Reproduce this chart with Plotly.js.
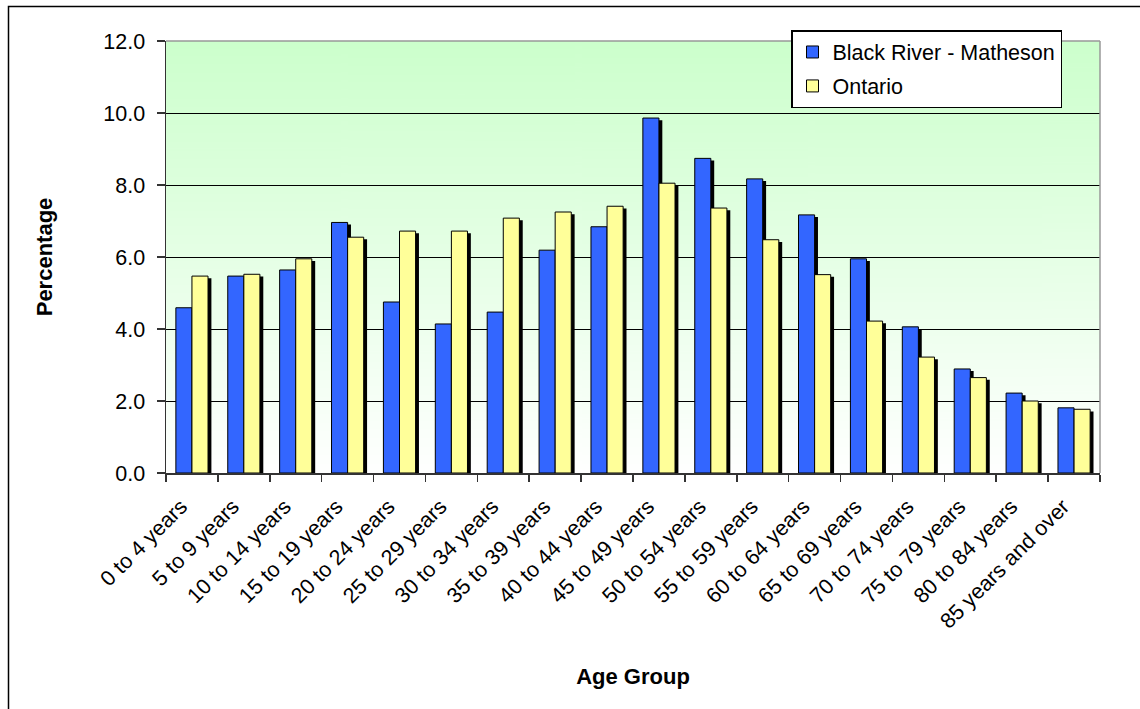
<!DOCTYPE html>
<html>
<head>
<meta charset="utf-8">
<script src="https://cdn.plot.ly/plotly-3.0.1.min.js"></script>
<style>html,body{margin:0;padding:0;background:#fff;}#chart{width:1140px;height:709px;}</style>
</head>
<body>
<div id="chart"></div>
<script>
var ageGroups = ["0 to 4 years", "5 to 9 years", "10 to 14 years", "15 to 19 years", "20 to 24 years",
  "25 to 29 years", "30 to 34 years", "35 to 39 years", "40 to 44 years", "45 to 49 years",
  "50 to 54 years", "55 to 59 years", "60 to 64 years", "65 to 69 years", "70 to 74 years",
  "75 to 79 years", "80 to 84 years", "85 years and over"];
var blackRiver = [4.59, 5.47, 5.64, 6.96, 4.75, 4.14, 4.47, 6.19, 6.84, 9.86, 8.74, 8.17, 7.17, 5.95, 4.06, 2.89, 2.22, 1.81];
var ontario = [5.47, 5.52, 5.95, 6.55, 6.72, 6.72, 7.08, 7.25, 7.41, 8.05, 7.36, 6.48, 5.51, 4.22, 3.22, 2.65, 2.00, 1.77];
var seriesNames = ["Black River - Matheson", "Ontario"];
var yTicks = [0, 2, 4, 6, 8, 10, 12];

// background gradient for plot area
var cv = document.createElement('canvas');
cv.width = 8; cv.height = 400;
var ctx = cv.getContext('2d');
var g = ctx.createLinearGradient(0, 0, 0, 400);
g.addColorStop(0, '#CCFFCC');
g.addColorStop(1, '#FFFFFF');
ctx.fillStyle = g;
ctx.fillRect(0, 0, 8, 400);
var bgURL = cv.toDataURL('image/png');

var W = 0.31, SX = 0.065, SB = -0.06;
var traces = [
  {type:'bar', x:ageGroups, y:blackRiver, base:SB, offset:-W+SX, width:W, marker:{color:'#000', line:{width:0}}, showlegend:false, hoverinfo:'skip'},
  {type:'bar', x:ageGroups, y:ontario, base:SB, offset:SX, width:W, marker:{color:'#000', line:{width:0}}, showlegend:false, hoverinfo:'skip'},
  {type:'bar', name:seriesNames[0], legendgroup:'a', x:ageGroups, y:blackRiver, offset:-W, width:W, marker:{color:'#3366FF', line:{color:'#000', width:1}}},
  {type:'bar', name:seriesNames[1], legendgroup:'b', x:ageGroups, y:ontario, offset:0, width:W, marker:{color:'#FFFF99', line:{color:'#000', width:1}}}
];

var L = 166, R = 40, T = 41, B = 236;
var pw = 1140 - L - R, ph = 709 - T - B;
function px(x){ return (x - L) / pw; }
function py(y){ return (709 - B - y) / ph; }

var layout = {
  width:1140, height:709,
  margin:{l:L, r:R, t:T, b:B},
  paper_bgcolor:'#fff', plot_bgcolor:'rgba(0,0,0,0)',
  barmode:'overlay',
  font:{family:'Arial, "Liberation Sans", sans-serif', size:21.5, color:'#000'},
  showlegend:true,
  legend:{x:px(791), y:py(30), xanchor:'left', yanchor:'top', bgcolor:'#fff', bordercolor:'#000', borderwidth:1.5,
    font:{size:21.5}, traceorder:'grouped', tracegroupgap:3, itemwidth:30},
  xaxis:{type:'category', categoryorder:'array', categoryarray:ageGroups, tickangle:-45,
    showline:true, linecolor:'#333', linewidth:1.5, ticks:'outside', tickson:'boundaries', ticklen:7, tickcolor:'#333', tickwidth:1.5,
    showgrid:false, range:[-0.5, 17.5], tickfont:{size:21.5}, ticklabelstandoff:11, ticklabelshift:-11,
    title:{text:'<b>Age Group</b>', font:{size:22}, standoff:36}},
  yaxis:{range:[0,12], tickvals:yTicks, tickformat:'.1f', showline:true, linecolor:'#333', linewidth:1.5,
    ticks:'outside', ticklen:8, tickcolor:'#333', tickwidth:1.5, showgrid:true, gridcolor:'#000', gridwidth:1,
    zeroline:false, tickfont:{size:21.5}, ticklabelstandoff:7,
    title:{text:'<b>Percentage</b>', font:{size:22}, standoff:44}},
  images:[{source:bgURL, xref:'paper', yref:'paper', x:0, y:1, sizex:1, sizey:1, sizing:'stretch', xanchor:'left', yanchor:'top', layer:'below'}],
  shapes:[
    {type:'line', xref:'paper', yref:'paper', x0:0, x1:1, y0:1, y1:1, line:{color:'#999', width:1.5}},
    {type:'line', xref:'paper', yref:'paper', x0:1, x1:1, y0:0, y1:1, line:{color:'#999', width:1.5}},
    {type:'rect', xref:'paper', yref:'paper', x0:px(8.5), x1:px(1200), y0:py(6.5), y1:py(800), line:{color:'#000', width:1.5}}
  ]
};

Plotly.newPlot('chart', traces, layout, {displayModeBar:false, staticPlot:true});
</script>
</body>
</html>
